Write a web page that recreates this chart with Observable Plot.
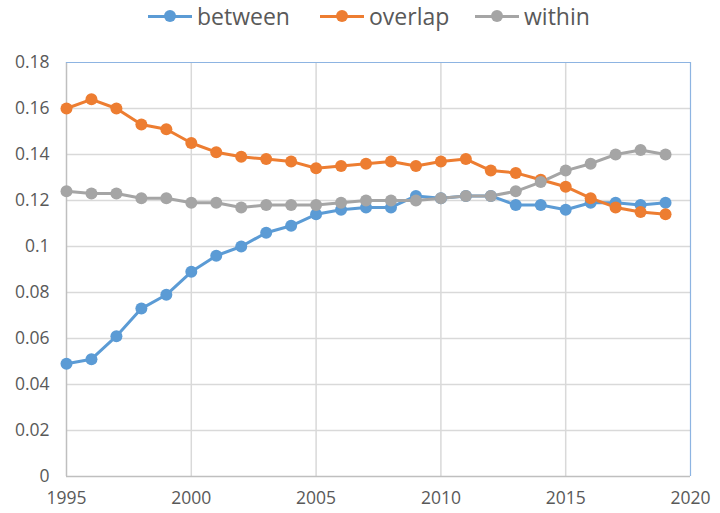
<!DOCTYPE html>
<html><head><meta charset="utf-8">
<script src="https://cdn.jsdelivr.net/npm/d3@7"></script>
<script src="https://cdn.jsdelivr.net/npm/@observablehq/plot@0.6"></script>
<style>
body{margin:0;background:#fff;font-family:"Open Sans",sans-serif;}
#legend{height:40px;position:relative;}
.item{position:absolute;top:0px;display:flex;align-items:center;font-size:23px;color:#595959;}
.sw{position:relative;width:44px;height:20px;margin-right:5px;}
.sw .ln{position:absolute;left:0;right:0;top:9px;height:3px;}
.sw .dt{position:absolute;left:16px;top:4px;width:12px;height:12px;border-radius:50%;}
#chart svg text{font-size:17.5px !important;}
</style></head>
<body>
<div id="legend"></div>
<div id="chart"></div>
<script>
const years = d3.range(1995, 2020);
const between = [0.049,0.051,0.061,0.073,0.079,0.089,0.096,0.100,0.106,0.109,0.114,0.116,0.117,0.117,0.122,0.121,0.122,0.122,0.118,0.118,0.116,0.119,0.119,0.118,0.119];
const overlap = [0.160,0.164,0.160,0.153,0.151,0.145,0.141,0.139,0.138,0.137,0.134,0.135,0.136,0.137,0.135,0.137,0.138,0.133,0.132,0.129,0.126,0.121,0.117,0.115,0.114];
const within  = [0.124,0.123,0.123,0.121,0.121,0.119,0.119,0.117,0.118,0.118,0.118,0.119,0.120,0.120,0.120,0.121,0.122,0.122,0.124,0.128,0.133,0.136,0.140,0.142,0.140];
const seriesNames = ["between","overlap","within"];
const colors = ["#5B9BD5","#ED7D31","#A5A5A5"];
const xTicks = [1995,2000,2005,2010,2015,2020];
const yTicks = [0,0.02,0.04,0.06,0.08,0.1,0.12,0.14,0.16,0.18];
const yTickLabels = ["0","0.02","0.04","0.06","0.08","0.1","0.12","0.14","0.16","0.18"];

const seriesValues = [between, overlap, within];
const data = [];
seriesNames.forEach((s,i)=>years.forEach((y,j)=>data.push({series:s, year:y, value:seriesValues[i][j]})));

// legend
const leg = document.getElementById("legend");
const lx = [148, 320, 475];
seriesNames.forEach((s,i)=>{
  const d = document.createElement("div");
  d.className="item"; d.style.left = lx[i]+"px";
  d.innerHTML = `<div class="sw"><div class="ln" style="background:${colors[i]}"></div><div class="dt" style="background:${colors[i]}"></div></div><span>${s}</span>`;
  leg.appendChild(d);
});

const plot = Plot.plot({
  width: 720, height: 473,
  marginLeft: 66, marginRight: 30, marginTop: 22, marginBottom: 37,
  style:{fontFamily:"Open Sans, sans-serif", color:"#595959", background:"#fff"},
  x:{domain:[1995,2020], label:null},
  y:{domain:[0,0.18], label:null},
  color:{domain:seriesNames, range:colors},
  marks:[
    Plot.gridX(xTicks.slice(1,-1), {stroke:"#d9d9d9", strokeOpacity:1, strokeWidth:1.5}),
    Plot.gridY(yTicks.slice(1,-1), {stroke:"#d9d9d9", strokeOpacity:1, strokeWidth:1.5}),
    Plot.ruleY([0], {stroke:"#bfbfbf", strokeWidth:1.5}),
    Plot.ruleX([1995], {stroke:"#bfbfbf", strokeWidth:1.5}),
    Plot.ruleY([0.18], {stroke:"#8db4e2", strokeWidth:1.2}),
    Plot.ruleX([2020], {stroke:"#8db4e2", strokeWidth:1.2}),
    Plot.axisX(xTicks, {tickFormat:d=>String(d), tickSize:0, tickPadding:15, fill:"#595959", label:null}),
    Plot.axisY(yTicks, {tickFormat:(d,i)=>yTickLabels[i], tickSize:0, tickPadding:17, fill:"#595959", label:null}),
    Plot.line(data, {x:"year", y:"value", stroke:"series", strokeWidth:3, z:"series"}),
    Plot.dot(data, {x:"year", y:"value", fill:"series", r:6, stroke:"none"})
  ]
});
document.getElementById("chart").appendChild(plot);
</script>
</body></html>
